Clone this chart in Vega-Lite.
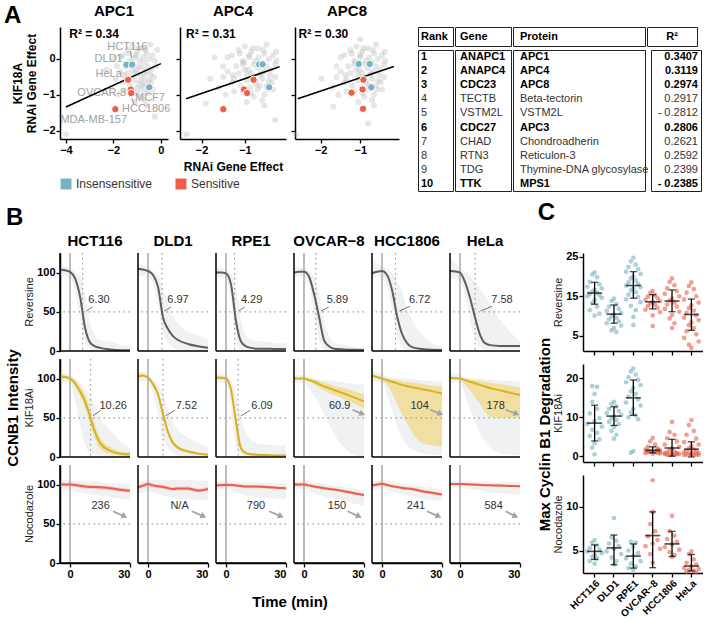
{
"$schema":"https://vega.github.io/schema/vega-lite/v6.json",
"padding":{"left":4,"top":4,"right":0,"bottom":0},
"title":{"text":"A","anchor":"start","frame":"group","fontSize":24,"fontWeight":"bold","offset":-24,"dx":-56},
"config":{"font":"Liberation Sans","view":{"stroke":null},
"axis":{"grid":false,"domainColor":"black","domainWidth":1.5,"tickColor":"black","tickWidth":1.3,"tickSize":4,"labelPadding":1,"labelFontSize":11,"labelFontWeight":"bold","labelColor":"black","titleFontSize":12,"titleFontWeight":"bold","titleColor":"black"},
"title":{"color":"black"},
"legend":{"labelFontSize":12,"labelColor":"#333"}},
"datasets":{
"aPts":[
{"p":"APC1","s":"bg","x":-1.6,"y":0.1},{"p":"APC1","s":"bg","x":-1.4,"y":0.25},{"p":"APC1","s":"bg","x":-1.2,"y":0.35},{"p":"APC1","s":"bg","x":-1.0,"y":0.2},{"p":"APC1","s":"bg","x":-0.8,"y":0.3},{"p":"APC1","s":"bg","x":-0.6,"y":0.15},{"p":"APC1","s":"bg","x":-0.5,"y":0.0},{"p":"APC1","s":"bg","x":-0.7,"y":-0.1},{"p":"APC1","s":"bg","x":-0.9,"y":-0.05},{"p":"APC1","s":"bg","x":-1.1,"y":0.05},{"p":"APC1","s":"bg","x":-1.3,"y":-0.05},{"p":"APC1","s":"bg","x":-1.5,"y":-0.2},{"p":"APC1","s":"bg","x":-1.7,"y":-0.35},{"p":"APC1","s":"bg","x":-1.4,"y":-0.4},{"p":"APC1","s":"bg","x":-1.2,"y":-0.3},{"p":"APC1","s":"bg","x":-1.0,"y":-0.4},{"p":"APC1","s":"bg","x":-0.8,"y":-0.25},{"p":"APC1","s":"bg","x":-0.6,"y":-0.35},{"p":"APC1","s":"bg","x":-0.4,"y":-0.3},{"p":"APC1","s":"bg","x":-0.3,"y":-0.5},{"p":"APC1","s":"bg","x":-0.5,"y":-0.6},{"p":"APC1","s":"bg","x":-0.7,"y":-0.55},{"p":"APC1","s":"bg","x":-0.9,"y":-0.7},{"p":"APC1","s":"bg","x":-1.1,"y":-0.6},{"p":"APC1","s":"bg","x":-1.3,"y":-0.75},{"p":"APC1","s":"bg","x":-1.6,"y":-0.65},{"p":"APC1","s":"bg","x":-1.9,"y":-0.55},{"p":"APC1","s":"bg","x":-2.1,"y":-0.8},{"p":"APC1","s":"bg","x":-1.8,"y":-1.0},{"p":"APC1","s":"bg","x":-1.0,"y":-0.95},{"p":"APC1","s":"bg","x":-0.8,"y":-0.85},{"p":"APC1","s":"bg","x":-0.6,"y":-0.95},{"p":"APC1","s":"bg","x":-0.35,"y":-0.85},{"p":"APC1","s":"bg","x":-0.2,"y":-0.2},{"p":"APC1","s":"bg","x":-0.15,"y":0.25},{"p":"APC1","s":"bg","x":-0.45,"y":0.4},{"p":"APC1","s":"bg","x":-1.1,"y":-1.2},{"p":"APC1","s":"bg","x":-0.7,"y":-1.15},{"p":"APC1","s":"bg","x":-2.3,"y":-0.3},{"p":"APC1","s":"bg","x":-2.0,"y":0.0},{"p":"APC1","s":"bg","x":-0.25,"y":-1.6},{"p":"APC1","s":"bg","x":-4.0,"y":-2.1},{"p":"APC1","s":"bg","x":-1.25,"y":-0.15},{"p":"APC1","s":"bg","x":-0.95,"y":-0.2},{"p":"APC1","s":"bg","x":-1.15,"y":-0.45},{"p":"APC1","s":"bg","x":-0.85,"y":-0.45},{"p":"APC1","s":"bg","x":-0.65,"y":-0.7},{"p":"APC1","s":"bg","x":-1.45,"y":-0.55},
{"p":"APC1","s":"bg","x":-1.05,"y":0.1},{"p":"APC1","s":"bg","x":-0.75,"y":0.05},{"p":"APC1","s":"bg","x":-0.55,"y":-0.2},{"p":"APC1","s":"bg","x":-0.85,"y":-0.6},{"p":"APC1","s":"bg","x":-1.0,"y":-0.8},{"p":"APC1","s":"bg","x":-0.7,"y":-0.4},{"p":"APC1","s":"bg","x":-1.2,"y":-0.1},{"p":"APC1","s":"bg","x":-0.95,"y":0.3},{"p":"APC1","s":"bg","x":-0.65,"y":0.25},{"p":"APC1","s":"bg","x":-0.35,"y":0.1},{"p":"APC1","s":"bg","x":-1.35,"y":0.15},{"p":"APC1","s":"bg","x":-1.55,"y":-0.45},{"p":"APC1","s":"bg","x":-0.45,"y":-0.45},{"p":"APC1","s":"bg","x":-0.55,"y":-0.85},{"p":"APC1","s":"bg","x":-0.9,"y":-1.05},{"p":"APC1","s":"bg","x":-1.2,"y":-0.9},{"p":"APC1","s":"bg","x":-0.75,"y":-0.75},{"p":"APC1","s":"bg","x":-1.05,"y":-0.3},{"p":"APC1","s":"bg","x":-0.4,"y":-0.65},{"p":"APC1","s":"bg","x":-0.25,"y":-0.05},{"p":"APC1","s":"bg","x":-1.7,"y":0.05},{"p":"APC1","s":"bg","x":-1.85,"y":-0.2},{"p":"APC1","s":"bg","x":-0.6,"y":-1.3},{"p":"APC1","s":"bg","x":-1.5,"y":-0.9},
{"p":"APC4","s":"bg","x":-1.3,"y":0.1},{"p":"APC4","s":"bg","x":-1.15,"y":0.25},{"p":"APC4","s":"bg","x":-1.0,"y":0.35},{"p":"APC4","s":"bg","x":-0.85,"y":0.2},{"p":"APC4","s":"bg","x":-0.7,"y":0.3},{"p":"APC4","s":"bg","x":-0.55,"y":0.15},{"p":"APC4","s":"bg","x":-0.45,"y":0.0},{"p":"APC4","s":"bg","x":-0.6,"y":-0.1},{"p":"APC4","s":"bg","x":-0.75,"y":-0.05},{"p":"APC4","s":"bg","x":-0.9,"y":0.05},{"p":"APC4","s":"bg","x":-1.05,"y":-0.05},{"p":"APC4","s":"bg","x":-1.2,"y":-0.2},{"p":"APC4","s":"bg","x":-1.4,"y":-0.35},{"p":"APC4","s":"bg","x":-1.15,"y":-0.4},{"p":"APC4","s":"bg","x":-1.0,"y":-0.3},{"p":"APC4","s":"bg","x":-0.85,"y":-0.4},{"p":"APC4","s":"bg","x":-0.7,"y":-0.25},{"p":"APC4","s":"bg","x":-0.55,"y":-0.35},{"p":"APC4","s":"bg","x":-0.4,"y":-0.3},{"p":"APC4","s":"bg","x":-0.3,"y":-0.5},{"p":"APC4","s":"bg","x":-0.45,"y":-0.6},{"p":"APC4","s":"bg","x":-0.6,"y":-0.55},{"p":"APC4","s":"bg","x":-0.75,"y":-0.7},{"p":"APC4","s":"bg","x":-0.95,"y":-0.6},{"p":"APC4","s":"bg","x":-1.1,"y":-0.75},{"p":"APC4","s":"bg","x":-1.3,"y":-0.65},{"p":"APC4","s":"bg","x":-1.5,"y":-0.5},{"p":"APC4","s":"bg","x":-1.6,"y":-0.8},{"p":"APC4","s":"bg","x":-1.45,"y":-1.0},{"p":"APC4","s":"bg","x":-0.85,"y":-0.95},{"p":"APC4","s":"bg","x":-0.7,"y":-0.85},{"p":"APC4","s":"bg","x":-0.55,"y":-1.0},{"p":"APC4","s":"bg","x":-0.35,"y":-0.85},{"p":"APC4","s":"bg","x":-0.3,"y":-0.15},{"p":"APC4","s":"bg","x":-0.28,"y":0.2},{"p":"APC4","s":"bg","x":-0.5,"y":0.4},{"p":"APC4","s":"bg","x":-0.95,"y":-1.2},{"p":"APC4","s":"bg","x":-0.6,"y":-1.15},{"p":"APC4","s":"bg","x":-1.8,"y":-0.55},{"p":"APC4","s":"bg","x":-1.7,"y":0.05},{"p":"APC4","s":"bg","x":-0.3,"y":-1.7},{"p":"APC4","s":"bg","x":-2.35,"y":-2.1},{"p":"APC4","s":"bg","x":-1.05,"y":-0.15},{"p":"APC4","s":"bg","x":-0.8,"y":-0.15},{"p":"APC4","s":"bg","x":-0.95,"y":-0.45},{"p":"APC4","s":"bg","x":-0.65,"y":-0.45},{"p":"APC4","s":"bg","x":-0.5,"y":-0.75},{"p":"APC4","s":"bg","x":-1.25,"y":-0.55},{"p":"APC4","s":"bg","x":-1.9,"y":-1.25},
{"p":"APC4","s":"bg","x":-0.9,"y":0.1},{"p":"APC4","s":"bg","x":-0.68,"y":0.05},{"p":"APC4","s":"bg","x":-0.5,"y":-0.2},{"p":"APC4","s":"bg","x":-0.75,"y":-0.6},{"p":"APC4","s":"bg","x":-0.88,"y":-0.8},{"p":"APC4","s":"bg","x":-0.62,"y":-0.4},{"p":"APC4","s":"bg","x":-1.02,"y":-0.1},{"p":"APC4","s":"bg","x":-0.82,"y":0.3},{"p":"APC4","s":"bg","x":-0.58,"y":0.25},{"p":"APC4","s":"bg","x":-0.35,"y":0.1},{"p":"APC4","s":"bg","x":-1.12,"y":0.15},{"p":"APC4","s":"bg","x":-1.28,"y":-0.45},{"p":"APC4","s":"bg","x":-0.42,"y":-0.45},{"p":"APC4","s":"bg","x":-0.48,"y":-0.85},{"p":"APC4","s":"bg","x":-0.8,"y":-1.05},{"p":"APC4","s":"bg","x":-1.05,"y":-0.9},{"p":"APC4","s":"bg","x":-0.66,"y":-0.75},{"p":"APC4","s":"bg","x":-0.92,"y":-0.3},{"p":"APC4","s":"bg","x":-0.38,"y":-0.65},{"p":"APC4","s":"bg","x":-0.27,"y":-0.05},{"p":"APC4","s":"bg","x":-1.4,"y":0.05},{"p":"APC4","s":"bg","x":-1.5,"y":-0.2},{"p":"APC4","s":"bg","x":-0.55,"y":-1.3},{"p":"APC4","s":"bg","x":-1.25,"y":-0.9},
{"p":"APC8","s":"bg","x":-1.4,"y":0.1},{"p":"APC8","s":"bg","x":-1.25,"y":0.25},{"p":"APC8","s":"bg","x":-1.1,"y":0.35},{"p":"APC8","s":"bg","x":-0.95,"y":0.2},{"p":"APC8","s":"bg","x":-0.8,"y":0.3},{"p":"APC8","s":"bg","x":-0.65,"y":0.15},{"p":"APC8","s":"bg","x":-0.55,"y":0.0},{"p":"APC8","s":"bg","x":-0.7,"y":-0.1},{"p":"APC8","s":"bg","x":-0.85,"y":-0.05},{"p":"APC8","s":"bg","x":-1.0,"y":0.05},{"p":"APC8","s":"bg","x":-1.15,"y":-0.05},{"p":"APC8","s":"bg","x":-1.3,"y":-0.2},{"p":"APC8","s":"bg","x":-1.5,"y":-0.35},{"p":"APC8","s":"bg","x":-1.25,"y":-0.4},{"p":"APC8","s":"bg","x":-1.1,"y":-0.3},{"p":"APC8","s":"bg","x":-0.95,"y":-0.4},{"p":"APC8","s":"bg","x":-0.8,"y":-0.25},{"p":"APC8","s":"bg","x":-0.65,"y":-0.35},{"p":"APC8","s":"bg","x":-0.5,"y":-0.3},{"p":"APC8","s":"bg","x":-0.4,"y":-0.5},{"p":"APC8","s":"bg","x":-0.55,"y":-0.6},{"p":"APC8","s":"bg","x":-0.7,"y":-0.55},{"p":"APC8","s":"bg","x":-0.85,"y":-0.7},{"p":"APC8","s":"bg","x":-1.05,"y":-0.6},{"p":"APC8","s":"bg","x":-1.2,"y":-0.75},{"p":"APC8","s":"bg","x":-1.4,"y":-0.65},{"p":"APC8","s":"bg","x":-1.6,"y":-0.5},{"p":"APC8","s":"bg","x":-1.7,"y":-0.8},{"p":"APC8","s":"bg","x":-1.55,"y":-1.0},{"p":"APC8","s":"bg","x":-0.95,"y":-0.95},{"p":"APC8","s":"bg","x":-0.8,"y":-0.85},{"p":"APC8","s":"bg","x":-0.65,"y":-1.0},{"p":"APC8","s":"bg","x":-0.45,"y":-0.85},{"p":"APC8","s":"bg","x":-0.4,"y":-0.15},{"p":"APC8","s":"bg","x":-0.38,"y":0.2},{"p":"APC8","s":"bg","x":-0.6,"y":0.4},{"p":"APC8","s":"bg","x":-1.05,"y":-1.2},{"p":"APC8","s":"bg","x":-0.7,"y":-1.15},{"p":"APC8","s":"bg","x":-1.98,"y":-0.55},{"p":"APC8","s":"bg","x":-1.68,"y":-1.33},{"p":"APC8","s":"bg","x":-0.8,"y":-1.8},{"p":"APC8","s":"bg","x":-2.63,"y":-2.1},{"p":"APC8","s":"bg","x":-1.15,"y":-0.15},{"p":"APC8","s":"bg","x":-0.9,"y":-0.15},{"p":"APC8","s":"bg","x":-1.05,"y":-0.45},{"p":"APC8","s":"bg","x":-0.75,"y":-0.45},{"p":"APC8","s":"bg","x":-0.6,"y":-0.75},{"p":"APC8","s":"bg","x":-1.35,"y":-0.55},{"p":"APC8","s":"bg","x":-1.0,"y":0.55},
{"p":"APC8","s":"bg","x":-1.0,"y":0.1},{"p":"APC8","s":"bg","x":-0.78,"y":0.05},{"p":"APC8","s":"bg","x":-0.6,"y":-0.2},{"p":"APC8","s":"bg","x":-0.85,"y":-0.6},{"p":"APC8","s":"bg","x":-0.98,"y":-0.8},{"p":"APC8","s":"bg","x":-0.72,"y":-0.4},{"p":"APC8","s":"bg","x":-1.12,"y":-0.1},{"p":"APC8","s":"bg","x":-0.92,"y":0.3},{"p":"APC8","s":"bg","x":-0.68,"y":0.25},{"p":"APC8","s":"bg","x":-0.45,"y":0.1},{"p":"APC8","s":"bg","x":-1.22,"y":0.15},{"p":"APC8","s":"bg","x":-1.38,"y":-0.45},{"p":"APC8","s":"bg","x":-0.52,"y":-0.45},{"p":"APC8","s":"bg","x":-0.58,"y":-0.85},{"p":"APC8","s":"bg","x":-0.9,"y":-1.05},{"p":"APC8","s":"bg","x":-1.15,"y":-0.9},{"p":"APC8","s":"bg","x":-0.76,"y":-0.75},{"p":"APC8","s":"bg","x":-1.02,"y":-0.3},{"p":"APC8","s":"bg","x":-0.48,"y":-0.65},{"p":"APC8","s":"bg","x":-0.37,"y":-0.05},{"p":"APC8","s":"bg","x":-1.5,"y":0.05},{"p":"APC8","s":"bg","x":-1.6,"y":-0.2},{"p":"APC8","s":"bg","x":-0.65,"y":-1.3},{"p":"APC8","s":"bg","x":-1.35,"y":-0.9},
{"p":"APC1","s":"Insensensitive","x":-1.45,"y":-0.16},{"p":"APC1","s":"Insensensitive","x":-1.21,"y":-0.16},{"p":"APC1","s":"Insensensitive","x":-0.49,"y":-0.79},{"p":"APC1","s":"Sensitive","x":-1.38,"y":-0.58},{"p":"APC1","s":"Sensitive","x":-1.27,"y":-0.85},{"p":"APC1","s":"Sensitive","x":-1.25,"y":-0.95},{"p":"APC1","s":"Sensitive","x":-1.92,"y":-1.4},
{"p":"APC4","s":"Insensensitive","x":-0.67,"y":-0.15},{"p":"APC4","s":"Insensensitive","x":-0.59,"y":-0.15},{"p":"APC4","s":"Insensensitive","x":-0.44,"y":-0.79},{"p":"APC4","s":"Sensitive","x":-0.8,"y":-0.58},{"p":"APC4","s":"Sensitive","x":-1.02,"y":-0.85},{"p":"APC4","s":"Sensitive","x":-0.95,"y":-0.95},{"p":"APC4","s":"Sensitive","x":-1.5,"y":-1.4},
{"p":"APC8","s":"Insensensitive","x":-1.04,"y":-0.14},{"p":"APC8","s":"Insensensitive","x":-0.76,"y":-0.14},{"p":"APC8","s":"Insensensitive","x":-0.72,"y":-0.79},{"p":"APC8","s":"Sensitive","x":-0.92,"y":-0.58},{"p":"APC8","s":"Sensitive","x":-0.94,"y":-0.85},{"p":"APC8","s":"Sensitive","x":-1.22,"y":-0.94},{"p":"APC8","s":"Sensitive","x":-0.93,"y":-1.39}
],
"aLine":[{"p":"APC1","x":-4,"y":-1.34},{"p":"APC1","x":0,"y":-0.13},{"p":"APC4","x":-2.36,"y":-1.11},{"p":"APC4","x":-0.2,"y":-0.22},{"p":"APC8","x":-2.58,"y":-1.11},{"p":"APC8","x":-0.15,"y":-0.21}],
"aTxt":[
{"p":"APC1","k":"r2","x":-3.86,"y":0.69,"txt":"R² = 0.34"},{"p":"APC4","k":"r2","x":-2.36,"y":0.69,"txt":"R² = 0.31"},{"p":"APC8","k":"r2","x":-2.56,"y":0.69,"txt":"R² = 0.30"},
{"p":"APC1","k":"lab","x":-1.41,"y":0.33,"txt":"HCT116"},{"p":"APC1","k":"lab","x":-2.2,"y":0.0,"txt":"DLD1"},{"p":"APC1","k":"lab","x":-2.2,"y":-0.43,"txt":"HeLa"},{"p":"APC1","k":"lab","x":-2.49,"y":-0.95,"txt":"OVCAR-8"},{"p":"APC1","k":"lab","x":-0.46,"y":-1.09,"txt":"MCF7"},{"p":"APC1","k":"lab","x":-0.62,"y":-1.39,"txt":"HCC1806"},{"p":"APC1","k":"lab","x":-2.83,"y":-1.69,"txt":"MDA-MB-157"},
{"p":"APC1","k":"ld","x":-1.27,"y":0.22,"x2":-1.24,"y2":0.02},{"p":"APC1","k":"ld","x":-1.23,"y":-1.09,"x2":-1.14,"y2":-1.25}
],
"tbl":[
{"rank":1,"gene":"ANAPC1","prot":"APC1","r2":"0.3407","b":true},
{"rank":2,"gene":"ANAPC4","prot":"APC4","r2":"0.3119","b":true},
{"rank":3,"gene":"CDC23","prot":"APC8","r2":"0.2974","b":true},
{"rank":4,"gene":"TECTB","prot":"Beta-tectorin","r2":"0.2917","b":false},
{"rank":5,"gene":"VSTM2L","prot":"VSTM2L","r2":"- 0.2812","b":false},
{"rank":6,"gene":"CDC27","prot":"APC3","r2":"0.2806","b":true},
{"rank":7,"gene":"CHAD","prot":"Chondroadherin","r2":"0.2621","b":false},
{"rank":8,"gene":"RTN3","prot":"Reticulon-3","r2":"0.2592","b":false},
{"rank":9,"gene":"TDG","prot":"Thymine-DNA glycosylase","r2":"0.2399","b":false},
{"rank":10,"gene":"TTK","prot":"MPS1","r2":"- 0.2385","b":true}
],
"bdat":[
{"c":"HCT116","g":"Reversine","t":-5,"m":104,"a":96,"b":110},{"c":"HCT116","g":"Reversine","t":-2.5,"m":103,"a":95,"b":108},{"c":"HCT116","g":"Reversine","t":0,"m":101,"a":92,"b":106},{"c":"HCT116","g":"Reversine","t":2.5,"m":93,"a":78,"b":101},{"c":"HCT116","g":"Reversine","t":5,"m":70,"a":42,"b":95},{"c":"HCT116","g":"Reversine","t":7.5,"m":30,"a":10,"b":72},{"c":"HCT116","g":"Reversine","t":10,"m":11,"a":3,"b":35},{"c":"HCT116","g":"Reversine","t":12.5,"m":6,"a":1,"b":20},{"c":"HCT116","g":"Reversine","t":15,"m":4,"a":0,"b":14},{"c":"HCT116","g":"Reversine","t":20,"m":2,"a":0,"b":12},{"c":"HCT116","g":"Reversine","t":25,"m":1,"a":0,"b":8},{"c":"HCT116","g":"Reversine","t":30,"m":1,"a":0,"b":6},
{"c":"DLD1","g":"Reversine","t":-5,"m":105,"a":97,"b":112},{"c":"DLD1","g":"Reversine","t":-2.5,"m":104,"a":96,"b":110},{"c":"DLD1","g":"Reversine","t":0,"m":102,"a":94,"b":107},{"c":"DLD1","g":"Reversine","t":2.5,"m":97,"a":85,"b":102},{"c":"DLD1","g":"Reversine","t":5,"m":82,"a":60,"b":97},{"c":"DLD1","g":"Reversine","t":7.5,"m":43,"a":25,"b":80},{"c":"DLD1","g":"Reversine","t":10,"m":28,"a":10,"b":60},{"c":"DLD1","g":"Reversine","t":12.5,"m":19,"a":5,"b":45},{"c":"DLD1","g":"Reversine","t":15,"m":14,"a":2,"b":35},{"c":"DLD1","g":"Reversine","t":20,"m":9,"a":0,"b":25},{"c":"DLD1","g":"Reversine","t":25,"m":6,"a":0,"b":20},{"c":"DLD1","g":"Reversine","t":30,"m":4,"a":0,"b":15},
{"c":"RPE1","g":"Reversine","t":-5,"m":100,"a":94,"b":106},{"c":"RPE1","g":"Reversine","t":-2.5,"m":100,"a":94,"b":106},{"c":"RPE1","g":"Reversine","t":0,"m":99,"a":92,"b":104},{"c":"RPE1","g":"Reversine","t":2.5,"m":85,"a":65,"b":100},{"c":"RPE1","g":"Reversine","t":5,"m":38,"a":12,"b":80},{"c":"RPE1","g":"Reversine","t":7.5,"m":12,"a":2,"b":40},{"c":"RPE1","g":"Reversine","t":10,"m":6,"a":0,"b":20},{"c":"RPE1","g":"Reversine","t":12.5,"m":4,"a":0,"b":15},{"c":"RPE1","g":"Reversine","t":15,"m":3,"a":0,"b":13},{"c":"RPE1","g":"Reversine","t":20,"m":3,"a":0,"b":12},{"c":"RPE1","g":"Reversine","t":25,"m":2.5,"a":0,"b":10},{"c":"RPE1","g":"Reversine","t":30,"m":2.5,"a":0,"b":10},
{"c":"OVCAR−8","g":"Reversine","t":-5,"m":100,"a":94,"b":106},{"c":"OVCAR−8","g":"Reversine","t":-2.5,"m":101,"a":95,"b":107},{"c":"OVCAR−8","g":"Reversine","t":0,"m":101,"a":95,"b":106},{"c":"OVCAR−8","g":"Reversine","t":2.5,"m":95,"a":85,"b":102},{"c":"OVCAR−8","g":"Reversine","t":5,"m":73,"a":50,"b":95},{"c":"OVCAR−8","g":"Reversine","t":7.5,"m":44,"a":15,"b":75},{"c":"OVCAR−8","g":"Reversine","t":10,"m":14,"a":2,"b":40},{"c":"OVCAR−8","g":"Reversine","t":12.5,"m":6,"a":0,"b":20},{"c":"OVCAR−8","g":"Reversine","t":15,"m":3,"a":0,"b":10},{"c":"OVCAR−8","g":"Reversine","t":20,"m":2,"a":0,"b":8},{"c":"OVCAR−8","g":"Reversine","t":25,"m":1.5,"a":0,"b":5},{"c":"OVCAR−8","g":"Reversine","t":30,"m":1.3,"a":0,"b":4},
{"c":"HCC1806","g":"Reversine","t":-5,"m":99,"a":92,"b":118},{"c":"HCC1806","g":"Reversine","t":-2.5,"m":101,"a":95,"b":112},{"c":"HCC1806","g":"Reversine","t":0,"m":102,"a":94,"b":108},{"c":"HCC1806","g":"Reversine","t":2.5,"m":97,"a":82,"b":104},{"c":"HCC1806","g":"Reversine","t":5,"m":78,"a":55,"b":100},{"c":"HCC1806","g":"Reversine","t":7.5,"m":45,"a":20,"b":90},{"c":"HCC1806","g":"Reversine","t":10,"m":22,"a":5,"b":75},{"c":"HCC1806","g":"Reversine","t":12.5,"m":10,"a":0,"b":55},{"c":"HCC1806","g":"Reversine","t":15,"m":5,"a":0,"b":40},{"c":"HCC1806","g":"Reversine","t":20,"m":2.5,"a":0,"b":20},{"c":"HCC1806","g":"Reversine","t":25,"m":1.5,"a":0,"b":10},{"c":"HCC1806","g":"Reversine","t":30,"m":1.3,"a":0,"b":6},
{"c":"HeLa","g":"Reversine","t":-5,"m":102,"a":92,"b":120},{"c":"HeLa","g":"Reversine","t":-2.5,"m":101.5,"a":92,"b":112},{"c":"HeLa","g":"Reversine","t":0,"m":100,"a":90,"b":106},{"c":"HeLa","g":"Reversine","t":2.5,"m":88,"a":70,"b":102},{"c":"HeLa","g":"Reversine","t":5,"m":68,"a":40,"b":95},{"c":"HeLa","g":"Reversine","t":7.5,"m":43,"a":15,"b":88},{"c":"HeLa","g":"Reversine","t":10,"m":21,"a":5,"b":80},{"c":"HeLa","g":"Reversine","t":12.5,"m":10,"a":2,"b":70},{"c":"HeLa","g":"Reversine","t":15,"m":7.5,"a":2,"b":60},{"c":"HeLa","g":"Reversine","t":20,"m":6.5,"a":2,"b":40},{"c":"HeLa","g":"Reversine","t":25,"m":6.4,"a":2,"b":25},{"c":"HeLa","g":"Reversine","t":30,"m":6.4,"a":2,"b":12},
{"c":"HCT116","g":"KIF18Ai","t":-5,"m":103,"lo":101,"hi":105,"a":96,"b":108},{"c":"HCT116","g":"KIF18Ai","t":-2.5,"m":102,"lo":100,"hi":104,"a":96,"b":106},{"c":"HCT116","g":"KIF18Ai","t":0,"m":100,"lo":98,"hi":102,"a":95,"b":104},{"c":"HCT116","g":"KIF18Ai","t":2.5,"m":94,"lo":90,"hi":98,"a":72,"b":100},{"c":"HCT116","g":"KIF18Ai","t":5,"m":84,"lo":78,"hi":90,"a":42,"b":95},{"c":"HCT116","g":"KIF18Ai","t":7.5,"m":71,"lo":63,"hi":79,"a":16,"b":88},{"c":"HCT116","g":"KIF18Ai","t":10,"m":52,"lo":42,"hi":62,"a":5,"b":78},{"c":"HCT116","g":"KIF18Ai","t":12.5,"m":32,"lo":24,"hi":40,"a":3,"b":65},{"c":"HCT116","g":"KIF18Ai","t":15,"m":18,"lo":11,"hi":25,"a":2,"b":50},{"c":"HCT116","g":"KIF18Ai","t":20,"m":8,"lo":4,"hi":13,"a":1,"b":35},{"c":"HCT116","g":"KIF18Ai","t":25,"m":4.3,"lo":2,"hi":7,"a":0,"b":20},{"c":"HCT116","g":"KIF18Ai","t":30,"m":3.4,"lo":1,"hi":6,"a":0,"b":12},
{"c":"DLD1","g":"KIF18Ai","t":-5,"m":103,"lo":101,"hi":105,"a":96,"b":108},{"c":"DLD1","g":"KIF18Ai","t":-2.5,"m":104,"lo":102,"hi":106,"a":97,"b":109},{"c":"DLD1","g":"KIF18Ai","t":0,"m":101,"lo":99,"hi":103,"a":95,"b":106},{"c":"DLD1","g":"KIF18Ai","t":2.5,"m":93,"lo":90,"hi":96,"a":80,"b":100},{"c":"DLD1","g":"KIF18Ai","t":5,"m":80,"lo":76,"hi":84,"a":55,"b":93},{"c":"DLD1","g":"KIF18Ai","t":7.5,"m":55,"lo":50,"hi":60,"a":25,"b":80},{"c":"DLD1","g":"KIF18Ai","t":10,"m":32,"lo":28,"hi":36,"a":12,"b":62},{"c":"DLD1","g":"KIF18Ai","t":12.5,"m":18,"lo":15,"hi":21,"a":5,"b":45},{"c":"DLD1","g":"KIF18Ai","t":15,"m":12,"lo":10,"hi":14,"a":2,"b":35},{"c":"DLD1","g":"KIF18Ai","t":20,"m":7,"lo":5,"hi":9,"a":0,"b":25},{"c":"DLD1","g":"KIF18Ai","t":25,"m":4.3,"lo":3,"hi":6,"a":0,"b":18},{"c":"DLD1","g":"KIF18Ai","t":30,"m":3,"lo":2,"hi":4,"a":0,"b":12},
{"c":"RPE1","g":"KIF18Ai","t":-5,"m":101,"lo":99,"hi":103,"a":95,"b":106},{"c":"RPE1","g":"KIF18Ai","t":-2.5,"m":101,"lo":99,"hi":103,"a":95,"b":106},{"c":"RPE1","g":"KIF18Ai","t":0,"m":100,"lo":98,"hi":102,"a":94,"b":105},{"c":"RPE1","g":"KIF18Ai","t":2.5,"m":86,"lo":82,"hi":90,"a":62,"b":98},{"c":"RPE1","g":"KIF18Ai","t":5,"m":45,"lo":38,"hi":52,"a":15,"b":80},{"c":"RPE1","g":"KIF18Ai","t":7.5,"m":11,"lo":8,"hi":15,"a":2,"b":50},{"c":"RPE1","g":"KIF18Ai","t":10,"m":5,"lo":3,"hi":7,"a":0,"b":30},{"c":"RPE1","g":"KIF18Ai","t":12.5,"m":3.5,"lo":2,"hi":5,"a":0,"b":22},{"c":"RPE1","g":"KIF18Ai","t":15,"m":3,"lo":1.5,"hi":4.5,"a":0,"b":18},{"c":"RPE1","g":"KIF18Ai","t":20,"m":2.5,"lo":1,"hi":4,"a":0,"b":16},{"c":"RPE1","g":"KIF18Ai","t":25,"m":2,"lo":1,"hi":3,"a":0,"b":15},{"c":"RPE1","g":"KIF18Ai","t":30,"m":2,"lo":1,"hi":3,"a":0,"b":14},
{"c":"OVCAR−8","g":"KIF18Ai","t":-5,"m":100,"lo":99,"hi":101,"a":95,"b":105},{"c":"OVCAR−8","g":"KIF18Ai","t":-2.5,"m":100,"lo":99,"hi":101,"a":95,"b":105},{"c":"OVCAR−8","g":"KIF18Ai","t":0,"m":100,"lo":99,"hi":101,"a":95,"b":104},{"c":"OVCAR−8","g":"KIF18Ai","t":2.5,"m":98,"lo":96,"hi":100,"a":88,"b":102},{"c":"OVCAR−8","g":"KIF18Ai","t":5,"m":96,"lo":93,"hi":99,"a":78,"b":100},{"c":"OVCAR−8","g":"KIF18Ai","t":7.5,"m":93,"lo":89,"hi":97,"a":68,"b":99},{"c":"OVCAR−8","g":"KIF18Ai","t":10,"m":90,"lo":85,"hi":95,"a":55,"b":98},{"c":"OVCAR−8","g":"KIF18Ai","t":12.5,"m":88,"lo":82,"hi":93,"a":42,"b":98},{"c":"OVCAR−8","g":"KIF18Ai","t":15,"m":85.5,"lo":79,"hi":91,"a":30,"b":97},{"c":"OVCAR−8","g":"KIF18Ai","t":20,"m":81,"lo":74,"hi":88,"a":12,"b":95},{"c":"OVCAR−8","g":"KIF18Ai","t":25,"m":76,"lo":68,"hi":84,"a":3,"b":93},{"c":"OVCAR−8","g":"KIF18Ai","t":30,"m":71,"lo":62,"hi":80,"a":0,"b":92},
{"c":"HCC1806","g":"KIF18Ai","t":-5,"m":104,"lo":102,"hi":106,"a":96,"b":110},{"c":"HCC1806","g":"KIF18Ai","t":-2.5,"m":102,"lo":100,"hi":104,"a":96,"b":108},{"c":"HCC1806","g":"KIF18Ai","t":0,"m":100,"lo":98,"hi":102,"a":95,"b":106},{"c":"HCC1806","g":"KIF18Ai","t":2.5,"m":98,"lo":92,"hi":100,"a":80,"b":103},{"c":"HCC1806","g":"KIF18Ai","t":5,"m":96,"lo":82,"hi":99,"a":60,"b":101},{"c":"HCC1806","g":"KIF18Ai","t":7.5,"m":94,"lo":68,"hi":98,"a":40,"b":100},{"c":"HCC1806","g":"KIF18Ai","t":10,"m":92,"lo":55,"hi":97,"a":25,"b":100},{"c":"HCC1806","g":"KIF18Ai","t":12.5,"m":90.5,"lo":43,"hi":96,"a":15,"b":100},{"c":"HCC1806","g":"KIF18Ai","t":15,"m":89,"lo":32,"hi":95,"a":10,"b":99},{"c":"HCC1806","g":"KIF18Ai","t":20,"m":86.5,"lo":18,"hi":93,"a":5,"b":98},{"c":"HCC1806","g":"KIF18Ai","t":25,"m":84,"lo":15,"hi":91,"a":3,"b":97},{"c":"HCC1806","g":"KIF18Ai","t":30,"m":81,"lo":13,"hi":90,"a":3,"b":96},
{"c":"HeLa","g":"KIF18Ai","t":-5,"m":101,"lo":99,"hi":103,"a":95,"b":108},{"c":"HeLa","g":"KIF18Ai","t":-2.5,"m":100.5,"lo":99,"hi":102,"a":95,"b":106},{"c":"HeLa","g":"KIF18Ai","t":0,"m":100,"lo":99,"hi":101,"a":95,"b":105},{"c":"HeLa","g":"KIF18Ai","t":2.5,"m":98,"lo":92,"hi":100,"a":80,"b":102},{"c":"HeLa","g":"KIF18Ai","t":5,"m":96,"lo":85,"hi":99,"a":60,"b":101},{"c":"HeLa","g":"KIF18Ai","t":7.5,"m":94,"lo":76,"hi":98,"a":45,"b":100},{"c":"HeLa","g":"KIF18Ai","t":10,"m":92,"lo":68,"hi":97,"a":30,"b":100},{"c":"HeLa","g":"KIF18Ai","t":12.5,"m":90,"lo":58,"hi":96,"a":20,"b":99},{"c":"HeLa","g":"KIF18Ai","t":15,"m":88,"lo":51,"hi":95,"a":12,"b":99},{"c":"HeLa","g":"KIF18Ai","t":20,"m":85,"lo":50,"hi":93,"a":5,"b":98},{"c":"HeLa","g":"KIF18Ai","t":25,"m":82,"lo":50,"hi":91,"a":3,"b":97},{"c":"HeLa","g":"KIF18Ai","t":30,"m":79,"lo":50,"hi":89,"a":2,"b":96},
{"c":"HCT116","g":"Nocodazole","t":-5,"m":100,"lo":97.5,"hi":102.5,"a":92,"b":106},{"c":"HCT116","g":"Nocodazole","t":-2.5,"m":100,"lo":97.5,"hi":102.5,"a":92,"b":106},{"c":"HCT116","g":"Nocodazole","t":0,"m":100,"lo":97.5,"hi":102.5,"a":92,"b":106},{"c":"HCT116","g":"Nocodazole","t":2.5,"m":99.5,"lo":97,"hi":102,"a":91,"b":105},{"c":"HCT116","g":"Nocodazole","t":5,"m":98.5,"lo":96,"hi":101,"a":90,"b":105},{"c":"HCT116","g":"Nocodazole","t":7.5,"m":97.5,"lo":95,"hi":100,"a":89,"b":104},{"c":"HCT116","g":"Nocodazole","t":10,"m":97,"lo":94.5,"hi":99.5,"a":88,"b":104},{"c":"HCT116","g":"Nocodazole","t":12.5,"m":96.8,"lo":94.3,"hi":99.3,"a":87,"b":104},{"c":"HCT116","g":"Nocodazole","t":15,"m":96.5,"lo":94,"hi":99,"a":86,"b":103},{"c":"HCT116","g":"Nocodazole","t":20,"m":95.3,"lo":92.8,"hi":97.8,"a":84,"b":102},{"c":"HCT116","g":"Nocodazole","t":25,"m":93.5,"lo":91,"hi":96,"a":82,"b":101},{"c":"HCT116","g":"Nocodazole","t":30,"m":92,"lo":89.5,"hi":94.5,"a":80,"b":100},
{"c":"DLD1","g":"Nocodazole","t":-5,"m":96.5,"lo":94,"hi":99,"a":88,"b":104},{"c":"DLD1","g":"Nocodazole","t":-2.5,"m":98.7,"lo":96,"hi":101,"a":90,"b":105},{"c":"DLD1","g":"Nocodazole","t":0,"m":100.8,"lo":98,"hi":103,"a":92,"b":106},{"c":"DLD1","g":"Nocodazole","t":2.5,"m":99,"lo":96.5,"hi":101.5,"a":90,"b":106},{"c":"DLD1","g":"Nocodazole","t":5,"m":98,"lo":95.5,"hi":100.5,"a":88,"b":106},{"c":"DLD1","g":"Nocodazole","t":7.5,"m":97,"lo":94.5,"hi":99.5,"a":86,"b":106},{"c":"DLD1","g":"Nocodazole","t":10,"m":95.5,"lo":93,"hi":98,"a":84,"b":106},{"c":"DLD1","g":"Nocodazole","t":12.5,"m":94.5,"lo":92,"hi":97,"a":83,"b":106},{"c":"DLD1","g":"Nocodazole","t":15,"m":95,"lo":92.5,"hi":97.5,"a":82,"b":106},{"c":"DLD1","g":"Nocodazole","t":20,"m":95,"lo":92.5,"hi":97.5,"a":82,"b":106},{"c":"DLD1","g":"Nocodazole","t":25,"m":92.4,"lo":90,"hi":95,"a":80,"b":105},{"c":"DLD1","g":"Nocodazole","t":30,"m":94.5,"lo":92,"hi":97,"a":80,"b":105},
{"c":"RPE1","g":"Nocodazole","t":-5,"m":99,"lo":97,"hi":101,"a":93,"b":104},{"c":"RPE1","g":"Nocodazole","t":-2.5,"m":99.3,"lo":97.3,"hi":101.3,"a":93,"b":104},{"c":"RPE1","g":"Nocodazole","t":0,"m":99.6,"lo":97.6,"hi":101.6,"a":93,"b":104},{"c":"RPE1","g":"Nocodazole","t":2.5,"m":99.5,"lo":97.5,"hi":101.5,"a":92,"b":104},{"c":"RPE1","g":"Nocodazole","t":5,"m":99,"lo":97,"hi":101,"a":90,"b":104},{"c":"RPE1","g":"Nocodazole","t":7.5,"m":98.3,"lo":96.3,"hi":100.3,"a":88,"b":103},{"c":"RPE1","g":"Nocodazole","t":10,"m":97.5,"lo":95.5,"hi":99.5,"a":86,"b":103},{"c":"RPE1","g":"Nocodazole","t":12.5,"m":97.5,"lo":95.5,"hi":99.5,"a":85,"b":103},{"c":"RPE1","g":"Nocodazole","t":15,"m":97.5,"lo":95.5,"hi":99.5,"a":84,"b":103},{"c":"RPE1","g":"Nocodazole","t":20,"m":97,"lo":95,"hi":99,"a":83,"b":102},{"c":"RPE1","g":"Nocodazole","t":25,"m":96,"lo":94,"hi":98,"a":82,"b":102},{"c":"RPE1","g":"Nocodazole","t":30,"m":95.5,"lo":93.5,"hi":97.5,"a":82,"b":102},
{"c":"OVCAR−8","g":"Nocodazole","t":-5,"m":100,"lo":98,"hi":102,"a":94,"b":105},{"c":"OVCAR−8","g":"Nocodazole","t":-2.5,"m":100,"lo":98,"hi":102,"a":94,"b":105},{"c":"OVCAR−8","g":"Nocodazole","t":0,"m":100,"lo":98,"hi":102,"a":94,"b":105},{"c":"OVCAR−8","g":"Nocodazole","t":2.5,"m":99,"lo":97,"hi":101,"a":92,"b":104},{"c":"OVCAR−8","g":"Nocodazole","t":5,"m":97.5,"lo":95.5,"hi":99.5,"a":89,"b":103},{"c":"OVCAR−8","g":"Nocodazole","t":7.5,"m":96.5,"lo":94.5,"hi":98.5,"a":87,"b":102},{"c":"OVCAR−8","g":"Nocodazole","t":10,"m":95.4,"lo":93.4,"hi":97.4,"a":85,"b":101},{"c":"OVCAR−8","g":"Nocodazole","t":12.5,"m":94.5,"lo":92.5,"hi":96.5,"a":83,"b":100},{"c":"OVCAR−8","g":"Nocodazole","t":15,"m":93.7,"lo":91.7,"hi":95.7,"a":82,"b":99},{"c":"OVCAR−8","g":"Nocodazole","t":20,"m":91.6,"lo":89.6,"hi":93.6,"a":79,"b":97},{"c":"OVCAR−8","g":"Nocodazole","t":25,"m":89,"lo":87,"hi":91,"a":76,"b":95},{"c":"OVCAR−8","g":"Nocodazole","t":30,"m":86.6,"lo":84.6,"hi":88.6,"a":73,"b":93},
{"c":"HCC1806","g":"Nocodazole","t":-5,"m":99,"lo":97,"hi":101,"a":94,"b":104},{"c":"HCC1806","g":"Nocodazole","t":-2.5,"m":100,"lo":98,"hi":102,"a":94,"b":105},{"c":"HCC1806","g":"Nocodazole","t":0,"m":101,"lo":99,"hi":103,"a":95,"b":106},{"c":"HCC1806","g":"Nocodazole","t":2.5,"m":99.5,"lo":97.5,"hi":101.5,"a":93,"b":105},{"c":"HCC1806","g":"Nocodazole","t":5,"m":98,"lo":96,"hi":100,"a":91,"b":104},{"c":"HCC1806","g":"Nocodazole","t":7.5,"m":97,"lo":95,"hi":99,"a":89,"b":103},{"c":"HCC1806","g":"Nocodazole","t":10,"m":95.8,"lo":93.8,"hi":97.8,"a":87,"b":102},{"c":"HCC1806","g":"Nocodazole","t":12.5,"m":95,"lo":93,"hi":97,"a":86,"b":101},{"c":"HCC1806","g":"Nocodazole","t":15,"m":94.5,"lo":92.5,"hi":96.5,"a":85,"b":100},{"c":"HCC1806","g":"Nocodazole","t":20,"m":91.6,"lo":89.6,"hi":93.6,"a":82,"b":98},{"c":"HCC1806","g":"Nocodazole","t":25,"m":89.5,"lo":87.5,"hi":91.5,"a":80,"b":96},{"c":"HCC1806","g":"Nocodazole","t":30,"m":87.3,"lo":85.3,"hi":89.3,"a":78,"b":94},
{"c":"HeLa","g":"Nocodazole","t":-5,"m":100.8,"lo":99.3,"hi":102.3,"a":96,"b":105},{"c":"HeLa","g":"Nocodazole","t":-2.5,"m":100.8,"lo":99.3,"hi":102.3,"a":96,"b":105},{"c":"HeLa","g":"Nocodazole","t":0,"m":100.8,"lo":99.3,"hi":102.3,"a":96,"b":105},{"c":"HeLa","g":"Nocodazole","t":2.5,"m":100.5,"lo":99,"hi":102,"a":95,"b":105},{"c":"HeLa","g":"Nocodazole","t":5,"m":100.2,"lo":98.7,"hi":101.7,"a":94,"b":105},{"c":"HeLa","g":"Nocodazole","t":7.5,"m":99.9,"lo":98.4,"hi":101.4,"a":93,"b":104},{"c":"HeLa","g":"Nocodazole","t":10,"m":99.6,"lo":98.1,"hi":101.1,"a":92,"b":104},{"c":"HeLa","g":"Nocodazole","t":12.5,"m":99.3,"lo":97.8,"hi":100.8,"a":91,"b":104},{"c":"HeLa","g":"Nocodazole","t":15,"m":99.1,"lo":97.6,"hi":100.6,"a":90,"b":104},{"c":"HeLa","g":"Nocodazole","t":20,"m":98.7,"lo":97.2,"hi":100.2,"a":89,"b":103},{"c":"HeLa","g":"Nocodazole","t":25,"m":98.3,"lo":96.8,"hi":99.8,"a":88,"b":103},{"c":"HeLa","g":"Nocodazole","t":30,"m":97.9,"lo":96.4,"hi":99.4,"a":87,"b":103},
{"c":"HCT116","g":"Reversine","t50":6.30,"lab":"6.30","lx":14.5,"ly":64.5,"x1":8.2,"y1":51,"x2":11.2,"y2":56},
{"c":"DLD1","g":"Reversine","t50":6.97,"lab":"6.97","lx":15,"ly":64.5,"x1":8.2,"y1":51,"x2":11.5,"y2":56},
{"c":"RPE1","g":"Reversine","t50":4.29,"lab":"4.29","lx":12.8,"ly":64.5,"x1":6.3,"y1":51,"x2":9.3,"y2":56},
{"c":"OVCAR−8","g":"Reversine","t50":5.89,"lab":"5.89","lx":16.7,"ly":64.5,"x1":8.5,"y1":51,"x2":12.3,"y2":56},
{"c":"HCC1806","g":"Reversine","t50":6.72,"lab":"6.72","lx":18.8,"ly":64.5,"x1":8.7,"y1":51,"x2":14,"y2":57},
{"c":"HeLa","g":"Reversine","t50":7.58,"lab":"7.58","lx":21,"ly":64.5,"x1":10.3,"y1":51,"x2":16,"y2":57},
{"c":"HCT116","g":"KIF18Ai","t50":10.26,"lab":"10.26","lx":21.6,"ly":64.8,"x1":11.5,"y1":52.5,"x2":15.3,"y2":59.5},
{"c":"DLD1","g":"KIF18Ai","t50":7.52,"lab":"7.52","lx":19.2,"ly":64.8,"x1":8.8,"y1":52.5,"x2":13.3,"y2":59.5},
{"c":"RPE1","g":"KIF18Ai","t50":6.09,"lab":"6.09","lx":18,"ly":64.8,"x1":7.5,"y1":52.5,"x2":12,"y2":59.5},
{"c":"OVCAR−8","g":"KIF18Ai","lab":"60.9","lx":17.8,"ly":64.8,"ax1":24.2,"ay1":60.3,"ax2":29.2,"ay2":55},
{"c":"HCC1806","g":"KIF18Ai","lab":"104","lx":18.8,"ly":64.8,"ax1":24.2,"ay1":60.3,"ax2":29.3,"ay2":55},
{"c":"HeLa","g":"KIF18Ai","lab":"178","lx":17.8,"ly":64.8,"ax1":22.8,"ay1":60.3,"ax2":28.3,"ay2":55},
{"c":"HCT116","g":"Nocodazole","lab":"236","lx":15.3,"ly":73,"ax1":21.5,"ay1":66,"ax2":27.3,"ay2":59.5},
{"c":"DLD1","g":"Nocodazole","lab":"N/A","lx":15.8,"ly":73,"ax1":22,"ay1":66,"ax2":27.8,"ay2":59.5},
{"c":"RPE1","g":"Nocodazole","lab":"790","lx":15,"ly":73,"ax1":21.7,"ay1":66,"ax2":27.5,"ay2":59.5},
{"c":"OVCAR−8","g":"Nocodazole","lab":"150","lx":16.5,"ly":73,"ax1":21.7,"ay1":66,"ax2":27.5,"ay2":59.5},
{"c":"HCC1806","g":"Nocodazole","lab":"241","lx":17,"ly":73,"ax1":22.5,"ay1":66,"ax2":28.3,"ay2":59.5},
{"c":"HeLa","g":"Nocodazole","lab":"584","lx":16.8,"ly":73,"ax1":22.8,"ay1":66,"ax2":27.8,"ay2":59.5}
],
"cPts":[
{"t":"R","c":"HCT116","v":21,"j":3},{"t":"R","c":"HCT116","v":20.5,"j":2},{"t":"R","c":"HCT116","v":19.8,"j":4},{"t":"R","c":"HCT116","v":18.6,"j":1},{"t":"R","c":"HCT116","v":18,"j":5},{"t":"R","c":"HCT116","v":17.4,"j":0},{"t":"R","c":"HCT116","v":17,"j":6},{"t":"R","c":"HCT116","v":16.6,"j":3},{"t":"R","c":"HCT116","v":16.2,"j":2},{"t":"R","c":"HCT116","v":15.9,"j":4},{"t":"R","c":"HCT116","v":15.6,"j":1},{"t":"R","c":"HCT116","v":15.3,"j":5},{"t":"R","c":"HCT116","v":15,"j":0},{"t":"R","c":"HCT116","v":14.6,"j":6},{"t":"R","c":"HCT116","v":14,"j":3},{"t":"R","c":"HCT116","v":13.3,"j":2},{"t":"R","c":"HCT116","v":12.4,"j":4},{"t":"R","c":"HCT116","v":11.5,"j":1},{"t":"R","c":"HCT116","v":10.6,"j":5},{"t":"R","c":"HCT116","v":10.1,"j":3},
{"t":"R","c":"DLD1","v":14.4,"j":3},{"t":"R","c":"DLD1","v":13.8,"j":2},{"t":"R","c":"DLD1","v":13,"j":4},{"t":"R","c":"DLD1","v":12.4,"j":1},{"t":"R","c":"DLD1","v":11.8,"j":5},{"t":"R","c":"DLD1","v":11.3,"j":0},{"t":"R","c":"DLD1","v":10.8,"j":6},{"t":"R","c":"DLD1","v":10.4,"j":3},{"t":"R","c":"DLD1","v":10,"j":2},{"t":"R","c":"DLD1","v":9.6,"j":4},{"t":"R","c":"DLD1","v":9.2,"j":1},{"t":"R","c":"DLD1","v":8.7,"j":5},{"t":"R","c":"DLD1","v":8.2,"j":0},{"t":"R","c":"DLD1","v":7.6,"j":6},{"t":"R","c":"DLD1","v":7,"j":3},{"t":"R","c":"DLD1","v":6.4,"j":2},{"t":"R","c":"DLD1","v":6,"j":4},
{"t":"R","c":"RPE1","v":24.7,"j":3},{"t":"R","c":"RPE1","v":23.8,"j":2},{"t":"R","c":"RPE1","v":23,"j":4},{"t":"R","c":"RPE1","v":22.4,"j":1},{"t":"R","c":"RPE1","v":21.8,"j":5},{"t":"R","c":"RPE1","v":21.2,"j":0},{"t":"R","c":"RPE1","v":20.6,"j":6},{"t":"R","c":"RPE1","v":20,"j":3},{"t":"R","c":"RPE1","v":19.5,"j":2},{"t":"R","c":"RPE1","v":19,"j":4},{"t":"R","c":"RPE1","v":18.5,"j":1},{"t":"R","c":"RPE1","v":18.1,"j":5},{"t":"R","c":"RPE1","v":17.7,"j":0},{"t":"R","c":"RPE1","v":17.3,"j":6},{"t":"R","c":"RPE1","v":16.9,"j":3},{"t":"R","c":"RPE1","v":16.5,"j":2},{"t":"R","c":"RPE1","v":16,"j":4},{"t":"R","c":"RPE1","v":15.4,"j":1},{"t":"R","c":"RPE1","v":14.8,"j":5},{"t":"R","c":"RPE1","v":14.2,"j":0},{"t":"R","c":"RPE1","v":13.5,"j":6},{"t":"R","c":"RPE1","v":12.6,"j":2},{"t":"R","c":"RPE1","v":11.5,"j":4},{"t":"R","c":"RPE1","v":9.8,"j":3},{"t":"R","c":"RPE1","v":7.7,"j":3},
{"t":"R","c":"OVCAR−8","v":16.3,"j":3},{"t":"R","c":"OVCAR−8","v":15.8,"j":2},{"t":"R","c":"OVCAR−8","v":15.3,"j":4},{"t":"R","c":"OVCAR−8","v":14.9,"j":1},{"t":"R","c":"OVCAR−8","v":14.5,"j":5},{"t":"R","c":"OVCAR−8","v":14.1,"j":0},{"t":"R","c":"OVCAR−8","v":13.8,"j":6},{"t":"R","c":"OVCAR−8","v":13.5,"j":3},{"t":"R","c":"OVCAR−8","v":13.2,"j":2},{"t":"R","c":"OVCAR−8","v":12.9,"j":4},{"t":"R","c":"OVCAR−8","v":12.5,"j":1},{"t":"R","c":"OVCAR−8","v":12.1,"j":5},{"t":"R","c":"OVCAR−8","v":11.6,"j":0},{"t":"R","c":"OVCAR−8","v":11,"j":6},{"t":"R","c":"OVCAR−8","v":10.2,"j":3},{"t":"R","c":"OVCAR−8","v":7.5,"j":3},
{"t":"R","c":"HCC1806","v":19.5,"j":3},{"t":"R","c":"HCC1806","v":18.6,"j":2},{"t":"R","c":"HCC1806","v":17.8,"j":4},{"t":"R","c":"HCC1806","v":17,"j":1},{"t":"R","c":"HCC1806","v":16.3,"j":5},{"t":"R","c":"HCC1806","v":15.6,"j":0},{"t":"R","c":"HCC1806","v":15,"j":6},{"t":"R","c":"HCC1806","v":14.4,"j":3},{"t":"R","c":"HCC1806","v":13.9,"j":2},{"t":"R","c":"HCC1806","v":13.4,"j":4},{"t":"R","c":"HCC1806","v":12.9,"j":1},{"t":"R","c":"HCC1806","v":12.4,"j":5},{"t":"R","c":"HCC1806","v":11.8,"j":0},{"t":"R","c":"HCC1806","v":11.1,"j":6},{"t":"R","c":"HCC1806","v":10.3,"j":3},{"t":"R","c":"HCC1806","v":9.4,"j":2},{"t":"R","c":"HCC1806","v":8.2,"j":4},{"t":"R","c":"HCC1806","v":7,"j":3},
{"t":"R","c":"HeLa","v":18.5,"j":3},{"t":"R","c":"HeLa","v":17.6,"j":2},{"t":"R","c":"HeLa","v":16.8,"j":4},{"t":"R","c":"HeLa","v":15.9,"j":1},{"t":"R","c":"HeLa","v":15,"j":5},{"t":"R","c":"HeLa","v":14.2,"j":0},{"t":"R","c":"HeLa","v":13.4,"j":6},{"t":"R","c":"HeLa","v":12.7,"j":3},{"t":"R","c":"HeLa","v":12,"j":2},{"t":"R","c":"HeLa","v":11.4,"j":4},{"t":"R","c":"HeLa","v":10.8,"j":1},{"t":"R","c":"HeLa","v":10.2,"j":5},{"t":"R","c":"HeLa","v":9.6,"j":0},{"t":"R","c":"HeLa","v":9,"j":6},{"t":"R","c":"HeLa","v":8.4,"j":3},{"t":"R","c":"HeLa","v":7.7,"j":2},{"t":"R","c":"HeLa","v":7,"j":4},{"t":"R","c":"HeLa","v":6.2,"j":1},{"t":"R","c":"HeLa","v":5.4,"j":5},{"t":"R","c":"HeLa","v":4.5,"j":0},{"t":"R","c":"HeLa","v":3.6,"j":6},{"t":"R","c":"HeLa","v":2.8,"j":2},{"t":"R","c":"HeLa","v":2,"j":3},
{"t":"K","c":"HCT116","v":18,"j":2},{"t":"K","c":"HCT116","v":17.8,"j":4},{"t":"K","c":"HCT116","v":16,"j":3},{"t":"K","c":"HCT116","v":14,"j":2},{"t":"K","c":"HCT116","v":12.2,"j":4},{"t":"K","c":"HCT116","v":11,"j":1},{"t":"K","c":"HCT116","v":9.8,"j":5},{"t":"K","c":"HCT116","v":9,"j":3},{"t":"K","c":"HCT116","v":8.3,"j":0},{"t":"K","c":"HCT116","v":7.6,"j":6},{"t":"K","c":"HCT116","v":6.8,"j":2},{"t":"K","c":"HCT116","v":6,"j":4},{"t":"K","c":"HCT116","v":5.2,"j":1},{"t":"K","c":"HCT116","v":4.3,"j":5},{"t":"K","c":"HCT116","v":3.3,"j":3},{"t":"K","c":"HCT116","v":2.2,"j":2},{"t":"K","c":"HCT116","v":0.5,"j":3},
{"t":"K","c":"DLD1","v":14,"j":3},{"t":"K","c":"DLD1","v":13.4,"j":2},{"t":"K","c":"DLD1","v":12.8,"j":4},{"t":"K","c":"DLD1","v":12.2,"j":1},{"t":"K","c":"DLD1","v":11.6,"j":5},{"t":"K","c":"DLD1","v":11.1,"j":0},{"t":"K","c":"DLD1","v":10.6,"j":6},{"t":"K","c":"DLD1","v":10.2,"j":3},{"t":"K","c":"DLD1","v":9.8,"j":2},{"t":"K","c":"DLD1","v":9.3,"j":4},{"t":"K","c":"DLD1","v":8.8,"j":1},{"t":"K","c":"DLD1","v":8.2,"j":5},{"t":"K","c":"DLD1","v":7.5,"j":3},{"t":"K","c":"DLD1","v":6.5,"j":2},{"t":"K","c":"DLD1","v":5.5,"j":4},{"t":"K","c":"DLD1","v":4.5,"j":3},
{"t":"K","c":"RPE1","v":22.5,"j":3},{"t":"K","c":"RPE1","v":21.8,"j":2},{"t":"K","c":"RPE1","v":21,"j":4},{"t":"K","c":"RPE1","v":20.3,"j":1},{"t":"K","c":"RPE1","v":19.6,"j":5},{"t":"K","c":"RPE1","v":19,"j":0},{"t":"K","c":"RPE1","v":18.3,"j":6},{"t":"K","c":"RPE1","v":17.5,"j":3},{"t":"K","c":"RPE1","v":16.7,"j":2},{"t":"K","c":"RPE1","v":16,"j":4},{"t":"K","c":"RPE1","v":15.3,"j":1},{"t":"K","c":"RPE1","v":14.6,"j":5},{"t":"K","c":"RPE1","v":13.8,"j":0},{"t":"K","c":"RPE1","v":13,"j":6},{"t":"K","c":"RPE1","v":12.2,"j":3},{"t":"K","c":"RPE1","v":11.3,"j":2},{"t":"K","c":"RPE1","v":10.5,"j":4},{"t":"K","c":"RPE1","v":10,"j":1},{"t":"K","c":"RPE1","v":9.5,"j":5},{"t":"K","c":"RPE1","v":1.3,"j":3},{"t":"K","c":"RPE1","v":0.9,"j":2},
{"t":"K","c":"OVCAR−8","v":4.7,"j":3},{"t":"K","c":"OVCAR−8","v":3.8,"j":2},{"t":"K","c":"OVCAR−8","v":3,"j":4},{"t":"K","c":"OVCAR−8","v":2.4,"j":1},{"t":"K","c":"OVCAR−8","v":2,"j":5},{"t":"K","c":"OVCAR−8","v":1.7,"j":0},{"t":"K","c":"OVCAR−8","v":1.5,"j":6},{"t":"K","c":"OVCAR−8","v":1.3,"j":3},{"t":"K","c":"OVCAR−8","v":1.2,"j":2},{"t":"K","c":"OVCAR−8","v":1.1,"j":4},{"t":"K","c":"OVCAR−8","v":1,"j":1},{"t":"K","c":"OVCAR−8","v":0.9,"j":5},{"t":"K","c":"OVCAR−8","v":0.8,"j":0},{"t":"K","c":"OVCAR−8","v":0.7,"j":6},{"t":"K","c":"OVCAR−8","v":0.6,"j":3},{"t":"K","c":"OVCAR−8","v":1.4,"j":1},{"t":"K","c":"OVCAR−8","v":1.6,"j":5},{"t":"K","c":"OVCAR−8","v":1.1,"j":6},
{"t":"K","c":"HCC1806","v":8.8,"j":3},{"t":"K","c":"HCC1806","v":6.2,"j":2},{"t":"K","c":"HCC1806","v":5.5,"j":4},{"t":"K","c":"HCC1806","v":4.6,"j":1},{"t":"K","c":"HCC1806","v":3.8,"j":5},{"t":"K","c":"HCC1806","v":3,"j":0},{"t":"K","c":"HCC1806","v":2.4,"j":6},{"t":"K","c":"HCC1806","v":1.9,"j":3},{"t":"K","c":"HCC1806","v":1.5,"j":2},{"t":"K","c":"HCC1806","v":1.2,"j":4},{"t":"K","c":"HCC1806","v":1,"j":1},{"t":"K","c":"HCC1806","v":0.8,"j":5},{"t":"K","c":"HCC1806","v":0.7,"j":0},{"t":"K","c":"HCC1806","v":0.6,"j":6},{"t":"K","c":"HCC1806","v":0.5,"j":3},{"t":"K","c":"HCC1806","v":0.4,"j":2},{"t":"K","c":"HCC1806","v":0.4,"j":4},{"t":"K","c":"HCC1806","v":0.3,"j":1},{"t":"K","c":"HCC1806","v":0.5,"j":5},{"t":"K","c":"HCC1806","v":0.6,"j":0},
{"t":"K","c":"HeLa","v":9.3,"j":3},{"t":"K","c":"HeLa","v":8,"j":2},{"t":"K","c":"HeLa","v":6.5,"j":4},{"t":"K","c":"HeLa","v":5.5,"j":1},{"t":"K","c":"HeLa","v":4.5,"j":5},{"t":"K","c":"HeLa","v":3.6,"j":0},{"t":"K","c":"HeLa","v":3,"j":6},{"t":"K","c":"HeLa","v":2.5,"j":3},{"t":"K","c":"HeLa","v":2,"j":2},{"t":"K","c":"HeLa","v":1.7,"j":4},{"t":"K","c":"HeLa","v":1.4,"j":1},{"t":"K","c":"HeLa","v":1.2,"j":5},{"t":"K","c":"HeLa","v":1,"j":0},{"t":"K","c":"HeLa","v":0.8,"j":6},{"t":"K","c":"HeLa","v":0.7,"j":3},{"t":"K","c":"HeLa","v":0.6,"j":2},{"t":"K","c":"HeLa","v":0.5,"j":4},{"t":"K","c":"HeLa","v":0.4,"j":1},{"t":"K","c":"HeLa","v":0.4,"j":5},{"t":"K","c":"HeLa","v":0.3,"j":0},{"t":"K","c":"HeLa","v":0.3,"j":6},{"t":"K","c":"HeLa","v":0.5,"j":3},
{"t":"N","c":"HCT116","v":6.2,"j":3},{"t":"N","c":"HCT116","v":5.9,"j":2},{"t":"N","c":"HCT116","v":5.6,"j":4},{"t":"N","c":"HCT116","v":5.3,"j":1},{"t":"N","c":"HCT116","v":5.1,"j":5},{"t":"N","c":"HCT116","v":4.9,"j":0},{"t":"N","c":"HCT116","v":4.7,"j":6},{"t":"N","c":"HCT116","v":4.5,"j":3},{"t":"N","c":"HCT116","v":4.3,"j":2},{"t":"N","c":"HCT116","v":4.1,"j":4},{"t":"N","c":"HCT116","v":3.8,"j":1},{"t":"N","c":"HCT116","v":3.5,"j":3},
{"t":"N","c":"DLD1","v":8.7,"j":3},{"t":"N","c":"DLD1","v":6.5,"j":2},{"t":"N","c":"DLD1","v":6.1,"j":4},{"t":"N","c":"DLD1","v":5.8,"j":1},{"t":"N","c":"DLD1","v":5.5,"j":5},{"t":"N","c":"DLD1","v":5.2,"j":3},{"t":"N","c":"DLD1","v":4.9,"j":0},{"t":"N","c":"DLD1","v":4.6,"j":6},{"t":"N","c":"DLD1","v":4.2,"j":2},{"t":"N","c":"DLD1","v":3.8,"j":4},{"t":"N","c":"DLD1","v":3.4,"j":3},
{"t":"N","c":"RPE1","v":6,"j":2},{"t":"N","c":"RPE1","v":5.9,"j":4},{"t":"N","c":"RPE1","v":5.4,"j":3},{"t":"N","c":"RPE1","v":5,"j":1},{"t":"N","c":"RPE1","v":4.7,"j":5},{"t":"N","c":"RPE1","v":4.4,"j":3},{"t":"N","c":"RPE1","v":4.1,"j":0},{"t":"N","c":"RPE1","v":3.8,"j":6},{"t":"N","c":"RPE1","v":3.5,"j":2},{"t":"N","c":"RPE1","v":3.2,"j":4},{"t":"N","c":"RPE1","v":3,"j":1},{"t":"N","c":"RPE1","v":2.8,"j":3},
{"t":"N","c":"OVCAR−8","v":13,"j":3},{"t":"N","c":"OVCAR−8","v":9.4,"j":3},{"t":"N","c":"OVCAR−8","v":8,"j":2},{"t":"N","c":"OVCAR−8","v":7.2,"j":4},{"t":"N","c":"OVCAR−8","v":6.6,"j":1},{"t":"N","c":"OVCAR−8","v":6.2,"j":5},{"t":"N","c":"OVCAR−8","v":5.8,"j":3},{"t":"N","c":"OVCAR−8","v":5.5,"j":0},{"t":"N","c":"OVCAR−8","v":5.2,"j":6},{"t":"N","c":"OVCAR−8","v":4.6,"j":2},{"t":"N","c":"OVCAR−8","v":3.6,"j":3},
{"t":"N","c":"HCC1806","v":8.95,"j":3},{"t":"N","c":"HCC1806","v":7.2,"j":2},{"t":"N","c":"HCC1806","v":6.7,"j":4},{"t":"N","c":"HCC1806","v":6.3,"j":1},{"t":"N","c":"HCC1806","v":6,"j":5},{"t":"N","c":"HCC1806","v":5.7,"j":3},{"t":"N","c":"HCC1806","v":5.4,"j":0},{"t":"N","c":"HCC1806","v":5.1,"j":6},{"t":"N","c":"HCC1806","v":4.8,"j":2},{"t":"N","c":"HCC1806","v":4.5,"j":4},{"t":"N","c":"HCC1806","v":4.3,"j":3},
{"t":"N","c":"HeLa","v":4.9,"j":3},{"t":"N","c":"HeLa","v":4.6,"j":2},{"t":"N","c":"HeLa","v":4,"j":4},{"t":"N","c":"HeLa","v":3.6,"j":1},{"t":"N","c":"HeLa","v":3.4,"j":5},{"t":"N","c":"HeLa","v":3.2,"j":3},{"t":"N","c":"HeLa","v":3,"j":0},{"t":"N","c":"HeLa","v":2.9,"j":6},{"t":"N","c":"HeLa","v":2.8,"j":2},{"t":"N","c":"HeLa","v":2.7,"j":4},{"t":"N","c":"HeLa","v":2.6,"j":1},{"t":"N","c":"HeLa","v":2.5,"j":5}
],
"cSum":[
{"t":"R","c":"HCT116","mean":15.8,"lo":13.0,"hi":18.5},{"t":"R","c":"DLD1","mean":10.5,"lo":8.2,"hi":12.8},{"t":"R","c":"RPE1","mean":17.7,"lo":14.5,"hi":21.2},{"t":"R","c":"OVCAR−8","mean":13.6,"lo":11.8,"hi":15.4},{"t":"R","c":"HCC1806","mean":13.8,"lo":11.1,"hi":16.6},{"t":"R","c":"HeLa","mean":10.4,"lo":6.4,"hi":14.3},
{"t":"K","c":"HCT116","mean":8.5,"lo":3.9,"hi":13.1},{"t":"K","c":"DLD1","mean":10.3,"lo":7.9,"hi":12.7},{"t":"K","c":"RPE1","mean":15.0,"lo":10.5,"hi":19.6},{"t":"K","c":"OVCAR−8","mean":1.5,"lo":0.85,"hi":2.4},{"t":"K","c":"HCC1806","mean":2.1,"lo":0.0,"hi":4.35},{"t":"K","c":"HeLa","mean":1.8,"lo":-0.2,"hi":3.7},
{"t":"N","c":"HCT116","mean":4.9,"lo":3.98,"hi":5.64},{"t":"N","c":"DLD1","mean":5.3,"lo":3.38,"hi":6.77},{"t":"N","c":"RPE1","mean":4.36,"lo":3.0,"hi":5.75},{"t":"N","c":"OVCAR−8","mean":6.7,"lo":3.04,"hi":9.4},{"t":"N","c":"HCC1806","mean":5.75,"lo":4.32,"hi":7.18},{"t":"N","c":"HeLa","mean":3.23,"lo":2.67,"hi":4.55}
]
},
"vconcat":[
{"hconcat":[
 {"hconcat":[
   {"width":108,"height":112,"title":{"text":"APC1","fontSize":15,"fontWeight":"bold","offset":8},
    "layer":[
     {"data":{"name":"aPts"},"transform":[{"filter":"datum.p=='APC1' && datum.s=='bg'"}],"mark":{"type":"circle","size":36,"color":"#adadad","opacity":0.3},
      "encoding":{"x":{"field":"x","type":"quantitative","scale":{"domain":[-4.25,0.3],"nice":false,"zero":false},"axis":{"values":[-4,-2,0],"title":null}},
                  "y":{"field":"y","type":"quantitative","scale":{"domain":[-2.23,0.89],"nice":false,"zero":false},"axis":{"values":[-2,-1,0],"title":["KIF18A","RNAi Gene Effect"],"titleFontSize":12}}}},
     {"data":{"name":"aTxt"},"transform":[{"filter":"datum.p=='APC1' && datum.k=='lab'"}],"mark":{"type":"text","fontSize":11,"color":"#a0a0a0"},"encoding":{"x":{"field":"x","type":"quantitative"},"y":{"field":"y","type":"quantitative"},"text":{"field":"txt"}}},
     {"data":{"name":"aTxt"},"transform":[{"filter":"datum.p=='APC1' && datum.k=='ld'"}],"mark":{"type":"rule","color":"#8a8a8a","strokeWidth":1},"encoding":{"x":{"field":"x","type":"quantitative"},"y":{"field":"y","type":"quantitative"},"x2":{"field":"x2"},"y2":{"field":"y2"}}},
     {"data":{"name":"aLine"},"transform":[{"filter":"datum.p=='APC1'"}],"mark":{"type":"line","color":"black","strokeWidth":1.6},"encoding":{"x":{"field":"x","type":"quantitative"},"y":{"field":"y","type":"quantitative"}}},
     {"data":{"name":"aPts"},"transform":[{"filter":"datum.p=='APC1' && datum.s!='bg'"}],"mark":{"type":"circle","size":55,"opacity":1,"stroke":"white","strokeWidth":1},
      "encoding":{"x":{"field":"x","type":"quantitative"},"y":{"field":"y","type":"quantitative"},"color":{"field":"s","type":"nominal","scale":{"domain":["Insensensitive","Sensitive"],"range":["#78B1C0","#EA604B"]},"legend":{"orient":"bottom","direction":"horizontal","title":null,"symbolType":"square","symbolSize":120,"symbolStrokeWidth":0,"columnPadding":22,"offset":6}}}},
     {"data":{"name":"aTxt"},"transform":[{"filter":"datum.p=='APC1' && datum.k=='r2'"}],"mark":{"type":"text","align":"left","fontSize":12,"fontWeight":"bold","color":"black"},"encoding":{"x":{"field":"x","type":"quantitative"},"y":{"field":"y","type":"quantitative"},"text":{"field":"txt"}}}
    ]},
   {"width":106,"height":112,"title":{"text":"APC4","fontSize":15,"fontWeight":"bold","offset":8},
    "layer":[
     {"data":{"name":"aPts"},"transform":[{"filter":"datum.p=='APC4' && datum.s=='bg'"}],"mark":{"type":"circle","size":36,"color":"#adadad","opacity":0.3},
      "encoding":{"x":{"field":"x","type":"quantitative","scale":{"domain":[-2.5,-0.05],"nice":false,"zero":false},"axis":{"values":[-2,-1],"title":"RNAi Gene Effect","titlePadding":6}},
                  "y":{"field":"y","type":"quantitative","scale":{"domain":[-2.23,0.89],"nice":false,"zero":false},"axis":{"values":[-2,-1,0],"labels":false,"title":null}}}},
     {"data":{"name":"aLine"},"transform":[{"filter":"datum.p=='APC4'"}],"mark":{"type":"line","color":"black","strokeWidth":1.6},"encoding":{"x":{"field":"x","type":"quantitative"},"y":{"field":"y","type":"quantitative"}}},
     {"data":{"name":"aPts"},"transform":[{"filter":"datum.p=='APC4' && datum.s!='bg'"}],"mark":{"type":"circle","size":55,"opacity":1,"stroke":"white","strokeWidth":1},
      "encoding":{"x":{"field":"x","type":"quantitative"},"y":{"field":"y","type":"quantitative"},"color":{"field":"s","type":"nominal","scale":{"domain":["Insensensitive","Sensitive"],"range":["#78B1C0","#EA604B"]},"legend":{"orient":"bottom","direction":"horizontal","title":null,"symbolType":"square","symbolSize":120,"symbolStrokeWidth":0,"columnPadding":22,"offset":6}}}},
     {"data":{"name":"aTxt"},"transform":[{"filter":"datum.p=='APC4' && datum.k=='r2'"}],"mark":{"type":"text","align":"left","fontSize":12,"fontWeight":"bold","color":"black"},"encoding":{"x":{"field":"x","type":"quantitative"},"y":{"field":"y","type":"quantitative"},"text":{"field":"txt"}}}
    ]},
   {"width":104,"height":112,"title":{"text":"APC8","fontSize":15,"fontWeight":"bold","offset":8},
    "layer":[
     {"data":{"name":"aPts"},"transform":[{"filter":"datum.p=='APC8' && datum.s=='bg'"}],"mark":{"type":"circle","size":36,"color":"#adadad","opacity":0.3},
      "encoding":{"x":{"field":"x","type":"quantitative","scale":{"domain":[-2.65,-0.02],"nice":false,"zero":false},"axis":{"values":[-2,-1],"title":null}},
                  "y":{"field":"y","type":"quantitative","scale":{"domain":[-2.23,0.89],"nice":false,"zero":false},"axis":{"values":[-2,-1,0],"labels":false,"title":null}}}},
     {"data":{"name":"aLine"},"transform":[{"filter":"datum.p=='APC8'"}],"mark":{"type":"line","color":"black","strokeWidth":1.6},"encoding":{"x":{"field":"x","type":"quantitative"},"y":{"field":"y","type":"quantitative"}}},
     {"data":{"name":"aPts"},"transform":[{"filter":"datum.p=='APC8' && datum.s!='bg'"}],"mark":{"type":"circle","size":55,"opacity":1,"stroke":"white","strokeWidth":1},
      "encoding":{"x":{"field":"x","type":"quantitative"},"y":{"field":"y","type":"quantitative"},"color":{"field":"s","type":"nominal","scale":{"domain":["Insensensitive","Sensitive"],"range":["#78B1C0","#EA604B"]},"legend":{"orient":"bottom","direction":"horizontal","title":null,"symbolType":"square","symbolSize":120,"symbolStrokeWidth":0,"columnPadding":22,"offset":6}}}},
     {"data":{"name":"aTxt"},"transform":[{"filter":"datum.p=='APC8' && datum.k=='r2'"}],"mark":{"type":"text","align":"left","fontSize":12,"fontWeight":"bold","color":"black"},"encoding":{"x":{"field":"x","type":"quantitative"},"y":{"field":"y","type":"quantitative"},"text":{"field":"txt"}}}
    ]}
  ],"spacing":4},
 {"vconcat":[
   {"hconcat":[
     {"width":35,"height":19,"view":{"stroke":"#222"},"data":{"values":[{"h":"Rank"}]},"mark":{"type":"text","align":"left","dx":3,"fontSize":11,"fontWeight":"bold","color":"black"},"encoding":{"text":{"field":"h"},"x":{"datum":0,"type":"quantitative","scale":{"domain":[0,1]},"axis":null}}},
     {"width":56,"height":19,"view":{"stroke":"#222"},"data":{"values":[{"h":"Gene"}]},"mark":{"type":"text","align":"left","dx":5,"fontSize":11,"fontWeight":"bold","color":"black"},"encoding":{"text":{"field":"h"},"x":{"datum":0,"type":"quantitative","scale":{"domain":[0,1]},"axis":null}}},
     {"width":132,"height":19,"view":{"stroke":"#222"},"data":{"values":[{"h":"Protein"}]},"mark":{"type":"text","align":"left","dx":7,"fontSize":11,"fontWeight":"bold","color":"black"},"encoding":{"text":{"field":"h"},"x":{"datum":0,"type":"quantitative","scale":{"domain":[0,1]},"axis":null}}},
     {"width":50,"height":19,"view":{"stroke":"#222"},"data":{"values":[{"h":"R²"}]},"mark":{"type":"text","fontSize":11,"fontWeight":"bold","color":"black"},"encoding":{"text":{"field":"h"}}}
   ],"spacing":0},
   {"hconcat":[
     {"width":35,"height":141,"view":{"stroke":"#222"},"data":{"name":"tbl"},"layer":[
       {"transform":[{"filter":"datum.b"}],"mark":{"type":"text","align":"left","dx":3,"fontSize":11,"fontWeight":"bold","color":"black"},"encoding":{"text":{"field":"rank"},"x":{"datum":0,"type":"quantitative","scale":{"domain":[0,1]},"axis":null},"y":{"field":"rank","type":"ordinal","axis":null}}},
       {"transform":[{"filter":"!datum.b"}],"mark":{"type":"text","align":"left","dx":3,"fontSize":11,"color":"#333"},"encoding":{"text":{"field":"rank"},"x":{"datum":0,"type":"quantitative","scale":{"domain":[0,1]},"axis":null},"y":{"field":"rank","type":"ordinal","axis":null}}}]},
     {"width":56,"height":141,"view":{"stroke":"#222"},"data":{"name":"tbl"},"layer":[
       {"transform":[{"filter":"datum.b"}],"mark":{"type":"text","align":"left","dx":5,"fontSize":11,"fontWeight":"bold","color":"black"},"encoding":{"text":{"field":"gene"},"x":{"datum":0,"type":"quantitative","scale":{"domain":[0,1]},"axis":null},"y":{"field":"rank","type":"ordinal","axis":null}}},
       {"transform":[{"filter":"!datum.b"}],"mark":{"type":"text","align":"left","dx":5,"fontSize":11,"color":"#333"},"encoding":{"text":{"field":"gene"},"x":{"datum":0,"type":"quantitative","scale":{"domain":[0,1]},"axis":null},"y":{"field":"rank","type":"ordinal","axis":null}}}]},
     {"width":132,"height":141,"view":{"stroke":"#222"},"data":{"name":"tbl"},"layer":[
       {"transform":[{"filter":"datum.b"}],"mark":{"type":"text","align":"left","dx":7,"fontSize":11,"fontWeight":"bold","color":"black"},"encoding":{"text":{"field":"prot"},"x":{"datum":0,"type":"quantitative","scale":{"domain":[0,1]},"axis":null},"y":{"field":"rank","type":"ordinal","axis":null}}},
       {"transform":[{"filter":"!datum.b"}],"mark":{"type":"text","align":"left","dx":7,"fontSize":11,"color":"#333"},"encoding":{"text":{"field":"prot"},"x":{"datum":0,"type":"quantitative","scale":{"domain":[0,1]},"axis":null},"y":{"field":"rank","type":"ordinal","axis":null}}}]},
     {"width":50,"height":141,"view":{"stroke":"#222"},"data":{"name":"tbl"},"layer":[
       {"transform":[{"filter":"datum.b"}],"mark":{"type":"text","align":"right","dx":-3,"fontSize":11,"fontWeight":"bold","color":"black"},"encoding":{"text":{"field":"r2"},"x":{"datum":1,"type":"quantitative","scale":{"domain":[0,1]},"axis":null},"y":{"field":"rank","type":"ordinal","axis":null}}},
       {"transform":[{"filter":"!datum.b"}],"mark":{"type":"text","align":"right","dx":-3,"fontSize":11,"color":"#333"},"encoding":{"text":{"field":"r2"},"x":{"datum":1,"type":"quantitative","scale":{"domain":[0,1]},"axis":null},"y":{"field":"rank","type":"ordinal","axis":null}}}]}
   ],"spacing":0}
 ],"spacing":2}
],"spacing":18,"resolve":{"scale":{"color":"independent"}}},
{"hconcat":[
 {"title":{"text":"B","anchor":"start","frame":"bounds","fontSize":24,"fontWeight":"bold"},
  "data":{"name":"bdat"},
  "bounds":"flush",
  "facet":{
   "row":{"field":"g","type":"nominal","sort":["Reversine","KIF18Ai","Nocodazole"],"header":{"title":"CCNB1 Intensity","titleFontSize":15,"titleFontWeight":"bold","titleColor":"black","titlePadding":-8,"labelAngle":-90,"labelFontSize":11,"labelColor":"#222","labelPadding":-4,"labelOrient":"left"}},
   "column":{"field":"c","type":"nominal","sort":["HCT116","DLD1","RPE1","OVCAR−8","HCC1806","HeLa"],"header":{"title":"Time (min)","titleOrient":"bottom","labelOrient":"top","titleFontSize":15,"titleFontWeight":"bold","titleColor":"black","titlePadding":6,"labelFontSize":15,"labelFontWeight":"bold","labelColor":"black","labelPadding":4}}
  },
  "spacing":{"row":8,"column":8},
  "spec":{"width":70,"height":98,
   "layer":[
    {"transform":[{"filter":"isValid(datum.t)"}],"mark":{"type":"area","color":"#c5cbd4","opacity":0.28,"interpolate":"monotone","clip":true},
     "encoding":{"x":{"field":"t","type":"quantitative","scale":{"domain":[-5,30],"nice":false},"axis":{"values":[0,10,20,30],"title":null}},
                 "y":{"field":"a","type":"quantitative","scale":{"domain":[0,125],"nice":false},"axis":{"values":[0,25,50,75,100],"title":null}},"y2":{"field":"b"}}},
    {"transform":[{"filter":"isValid(datum.lo)"}],"mark":{"type":"area","opacity":0.6,"interpolate":"monotone","clip":true},
     "encoding":{"x":{"field":"t","type":"quantitative"},"y":{"field":"lo","type":"quantitative"},"y2":{"field":"hi"},"fill":{"field":"g","type":"nominal","scale":{"domain":["KIF18Ai","Nocodazole"],"range":["#F0D46A","#F5B3A7"]},"legend":null}}},
    {"transform":[{"filter":"isValid(datum.lab)"}],"mark":{"type":"rule","color":"#a8a8a8","strokeWidth":1.5},"encoding":{"x":{"datum":0,"type":"quantitative"}}},
    {"transform":[{"filter":"isValid(datum.lab)"}],"mark":{"type":"rule","color":"#9a9a9a","strokeWidth":1.2,"strokeDash":[1.5,3.5]},"encoding":{"y":{"datum":50,"type":"quantitative"}}},
    {"transform":[{"filter":"isValid(datum.t50)"}],"mark":{"type":"rule","color":"#9a9a9a","strokeWidth":1.2,"strokeDash":[1.5,3.5]},"encoding":{"x":{"field":"t50","type":"quantitative"}}},
    {"transform":[{"filter":"isValid(datum.t)"}],"mark":{"type":"line","strokeWidth":2,"interpolate":"monotone","clip":true},
     "encoding":{"x":{"field":"t","type":"quantitative"},"y":{"field":"m","type":"quantitative"},"stroke":{"field":"g","type":"nominal","scale":{"domain":["Reversine","KIF18Ai","Nocodazole"],"range":["#5e5e5e","#D6B31F","#E9604C"]},"legend":null}}},
    {"transform":[{"filter":"isValid(datum.x1)"}],"mark":{"type":"rule","color":"#777","strokeWidth":1},"encoding":{"x":{"field":"x1","type":"quantitative"},"y":{"field":"y1","type":"quantitative"},"x2":{"field":"x2"},"y2":{"field":"y2"}}},
    {"transform":[{"filter":"isValid(datum.ax1)"}],"mark":{"type":"rule","color":"#a3a3a3","strokeWidth":1.8},"encoding":{"x":{"field":"ax1","type":"quantitative"},"y":{"field":"ay1","type":"quantitative"},"x2":{"field":"ax2"},"y2":{"field":"ay2"}}},
    {"transform":[{"filter":"isValid(datum.ax2)"}],"mark":{"type":"point","shape":"triangle-right","filled":true,"color":"#a3a3a3","size":45,"angle":24,"opacity":1},"encoding":{"x":{"field":"ax2","type":"quantitative"},"y":{"field":"ay2","type":"quantitative"}}},
    {"transform":[{"filter":"isValid(datum.lab)"}],"mark":{"type":"text","fontSize":11,"color":"#333"},"encoding":{"x":{"field":"lx","type":"quantitative"},"y":{"field":"ly","type":"quantitative"},"text":{"field":"lab"}}},
    {"transform":[{"filter":"isValid(datum.lab)"}],"mark":{"type":"rule","color":"black","strokeWidth":1.5},"encoding":{"x":{"datum":-5,"type":"quantitative"}}},
    {"transform":[{"filter":"isValid(datum.lab)"}],"mark":{"type":"rule","color":"black","strokeWidth":1.5},"encoding":{"y":{"datum":0,"type":"quantitative"}}}
   ]}
 },
 {"title":{"text":"C","anchor":"start","frame":"bounds","fontSize":24,"fontWeight":"bold","offset":26},
  "vconcat":[
   {"title":{"text":"Max Cyclin B1 Degradation","orient":"left","fontSize":15,"fontWeight":"bold","anchor":"middle","offset":0},
    "vconcat":[
     {"width":120,"height":98,"layer":[
       {"data":{"name":"cPts"},"transform":[{"filter":"datum.t=='R'"}],"mark":{"type":"circle","size":22,"opacity":0.6},
        "encoding":{"x":{"field":"c","type":"nominal","sort":["HCT116","DLD1","RPE1","OVCAR−8","HCC1806","HeLa"],"scale":{"paddingInner":0,"paddingOuter":0.1},"axis":{"labels":false,"title":null}},
                    "xOffset":{"field":"j","type":"nominal","scale":{"domain":[0,1,2,3,4,5,6],"paddingOuter":1}},
                    "y":{"field":"v","type":"quantitative","scale":{"domain":[1.2,25.9],"nice":false,"zero":false},"axis":{"values":[5,10,15,20,25],"title":"Reversine","titlePadding":2,"titleFontSize":11,"titleFontWeight":"normal","titleColor":"#222"}},
                    "color":{"field":"c","type":"nominal","scale":{"domain":["HCT116","DLD1","RPE1","OVCAR−8","HCC1806","HeLa"],"range":["#78B1C0","#78B1C0","#78B1C0","#EA604B","#EA604B","#EA604B"]},"legend":null}}},
       {"data":{"name":"cSum"},"transform":[{"filter":"datum.t=='R'"}],"mark":{"type":"rule","color":"black","strokeWidth":1.3},"encoding":{"x":{"field":"c","type":"nominal","sort":["HCT116","DLD1","RPE1","OVCAR−8","HCC1806","HeLa"]},"y":{"field":"lo","type":"quantitative"},"y2":{"field":"hi"}}},
       {"data":{"name":"cSum"},"transform":[{"filter":"datum.t=='R'"}],"mark":{"type":"tick","color":"black","size":7,"thickness":1.3},"encoding":{"x":{"field":"c","type":"nominal","sort":["HCT116","DLD1","RPE1","OVCAR−8","HCC1806","HeLa"]},"y":{"field":"lo","type":"quantitative"}}},
       {"data":{"name":"cSum"},"transform":[{"filter":"datum.t=='R'"}],"mark":{"type":"tick","color":"black","size":7,"thickness":1.3},"encoding":{"x":{"field":"c","type":"nominal","sort":["HCT116","DLD1","RPE1","OVCAR−8","HCC1806","HeLa"]},"y":{"field":"hi","type":"quantitative"}}},
       {"data":{"name":"cSum"},"transform":[{"filter":"datum.t=='R'"}],"mark":{"type":"tick","color":"black","size":15,"thickness":1.6},"encoding":{"x":{"field":"c","type":"nominal","sort":["HCT116","DLD1","RPE1","OVCAR−8","HCC1806","HeLa"]},"y":{"field":"mean","type":"quantitative"}}}
     ]},
     {"width":120,"height":98,"layer":[
       {"data":{"name":"cPts"},"transform":[{"filter":"datum.t=='K'"}],"mark":{"type":"circle","size":22,"opacity":0.6},
        "encoding":{"x":{"field":"c","type":"nominal","sort":["HCT116","DLD1","RPE1","OVCAR−8","HCC1806","HeLa"],"scale":{"paddingInner":0,"paddingOuter":0.1},"axis":{"labels":false,"title":null}},
                    "xOffset":{"field":"j","type":"nominal","scale":{"domain":[0,1,2,3,4,5,6],"paddingOuter":1}},
                    "y":{"field":"v","type":"quantitative","scale":{"domain":[-1.5,23.7],"nice":false,"zero":false},"axis":{"values":[0,5,10,15,20],"title":"KIF18Ai","titlePadding":2,"titleFontSize":11,"titleFontWeight":"normal","titleColor":"#222"}},
                    "color":{"field":"c","type":"nominal","scale":{"domain":["HCT116","DLD1","RPE1","OVCAR−8","HCC1806","HeLa"],"range":["#78B1C0","#78B1C0","#78B1C0","#EA604B","#EA604B","#EA604B"]},"legend":null}}},
       {"data":{"name":"cSum"},"transform":[{"filter":"datum.t=='K'"}],"mark":{"type":"rule","color":"black","strokeWidth":1.3},"encoding":{"x":{"field":"c","type":"nominal","sort":["HCT116","DLD1","RPE1","OVCAR−8","HCC1806","HeLa"]},"y":{"field":"lo","type":"quantitative"},"y2":{"field":"hi"}}},
       {"data":{"name":"cSum"},"transform":[{"filter":"datum.t=='K'"}],"mark":{"type":"tick","color":"black","size":7,"thickness":1.3},"encoding":{"x":{"field":"c","type":"nominal","sort":["HCT116","DLD1","RPE1","OVCAR−8","HCC1806","HeLa"]},"y":{"field":"lo","type":"quantitative"}}},
       {"data":{"name":"cSum"},"transform":[{"filter":"datum.t=='K'"}],"mark":{"type":"tick","color":"black","size":7,"thickness":1.3},"encoding":{"x":{"field":"c","type":"nominal","sort":["HCT116","DLD1","RPE1","OVCAR−8","HCC1806","HeLa"]},"y":{"field":"hi","type":"quantitative"}}},
       {"data":{"name":"cSum"},"transform":[{"filter":"datum.t=='K'"}],"mark":{"type":"tick","color":"black","size":15,"thickness":1.6},"encoding":{"x":{"field":"c","type":"nominal","sort":["HCT116","DLD1","RPE1","OVCAR−8","HCC1806","HeLa"]},"y":{"field":"mean","type":"quantitative"}}}
     ]},
     {"width":120,"height":98,"layer":[
       {"data":{"name":"cPts"},"transform":[{"filter":"datum.t=='N'"}],"mark":{"type":"circle","size":22,"opacity":0.6},
        "encoding":{"x":{"field":"c","type":"nominal","sort":["HCT116","DLD1","RPE1","OVCAR−8","HCC1806","HeLa"],"scale":{"paddingInner":0,"paddingOuter":0.1},"axis":{"labelAngle":-45,"labelFontSize":10,"title":null}},
                    "xOffset":{"field":"j","type":"nominal","scale":{"domain":[0,1,2,3,4,5,6],"paddingOuter":1}},
                    "y":{"field":"v","type":"quantitative","scale":{"domain":[2.44,13.6],"nice":false,"zero":false},"axis":{"values":[5,10],"title":"Nocodazole","titlePadding":2,"titleFontSize":11,"titleFontWeight":"normal","titleColor":"#222"}},
                    "color":{"field":"c","type":"nominal","scale":{"domain":["HCT116","DLD1","RPE1","OVCAR−8","HCC1806","HeLa"],"range":["#78B1C0","#78B1C0","#78B1C0","#EA604B","#EA604B","#EA604B"]},"legend":null}}},
       {"data":{"name":"cSum"},"transform":[{"filter":"datum.t=='N'"}],"mark":{"type":"rule","color":"black","strokeWidth":1.3},"encoding":{"x":{"field":"c","type":"nominal","sort":["HCT116","DLD1","RPE1","OVCAR−8","HCC1806","HeLa"]},"y":{"field":"lo","type":"quantitative"},"y2":{"field":"hi"}}},
       {"data":{"name":"cSum"},"transform":[{"filter":"datum.t=='N'"}],"mark":{"type":"tick","color":"black","size":7,"thickness":1.3},"encoding":{"x":{"field":"c","type":"nominal","sort":["HCT116","DLD1","RPE1","OVCAR−8","HCC1806","HeLa"]},"y":{"field":"lo","type":"quantitative"}}},
       {"data":{"name":"cSum"},"transform":[{"filter":"datum.t=='N'"}],"mark":{"type":"tick","color":"black","size":7,"thickness":1.3},"encoding":{"x":{"field":"c","type":"nominal","sort":["HCT116","DLD1","RPE1","OVCAR−8","HCC1806","HeLa"]},"y":{"field":"hi","type":"quantitative"}}},
       {"data":{"name":"cSum"},"transform":[{"filter":"datum.t=='N'"}],"mark":{"type":"tick","color":"black","size":15,"thickness":1.6},"encoding":{"x":{"field":"c","type":"nominal","sort":["HCT116","DLD1","RPE1","OVCAR−8","HCC1806","HeLa"]},"y":{"field":"mean","type":"quantitative"}}}
     ]}
    ],"spacing":8}
  ]}
],"spacing":16,"resolve":{"scale":{"color":"independent"}}}
],
"spacing":8,
"resolve":{"scale":{"color":"independent"}}
}
